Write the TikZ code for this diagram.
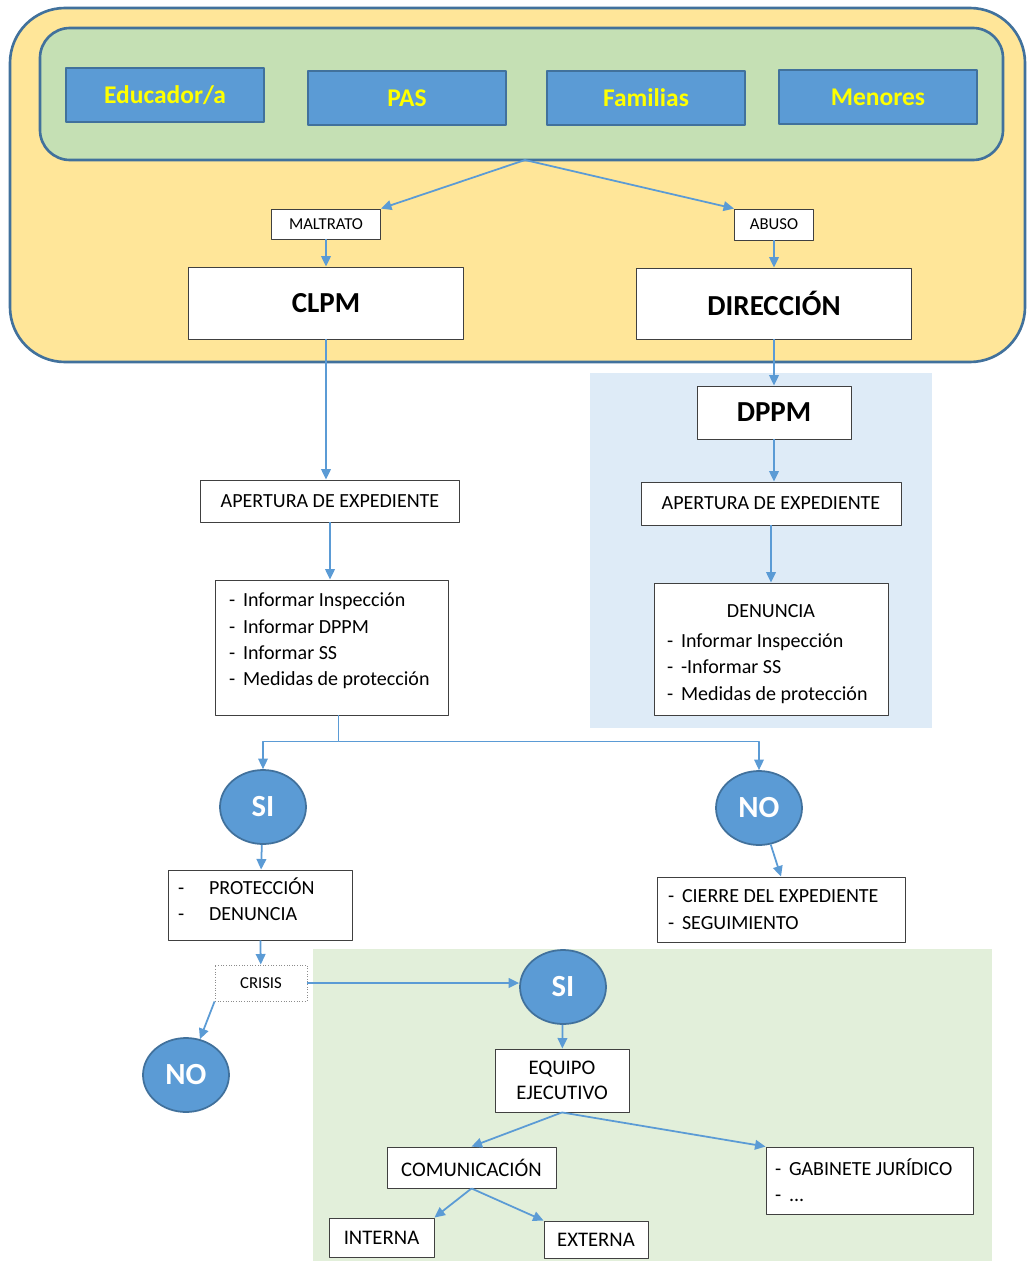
\documentclass[tikz,border=0pt]{standalone}
\usepackage{fontspec}
\setmainfont{Carlito}
\usetikzlibrary{shapes.geometric,arrows.meta}

\definecolor{azul}{HTML}{5B9BD5}
\definecolor{azuloscuro}{HTML}{41719C}
\definecolor{naranja}{HTML}{FFE699}
\definecolor{verde}{HTML}{C5E0B4}
\definecolor{verdeclaro}{HTML}{E2EFDA}
\definecolor{celeste}{HTML}{DEEBF7}
\definecolor{amarillo}{HTML}{FFFF00}

\newcommand{\guion}{\makebox[0.28cm][l]{-}}
\newcommand{\guionancho}{\makebox[0.62cm][l]{-}}

\tikzset{
  caja/.style={draw=black!75, fill=white, line width=0.5pt, inner sep=0pt, align=center, font=\fontsize{11.4}{15}\selectfont},
  lista/.style={caja, align=flush left},
  actor/.style={draw=azuloscuro, fill=azul, line width=1.2pt, text=amarillo, font=\fontsize{14.5}{16}\selectfont\bfseries, minimum width=3.96cm, minimum height=1.07cm},
  organo/.style={caja, font=\fontsize{16.5}{18}\selectfont\bfseries},
  etiqueta/.style={caja, font=\fontsize{9.5}{11}\selectfont},
  decision/.style={ellipse, draw=azuloscuro, fill=azul, line width=1pt, text=white, font=\fontsize{17.5}{18}\selectfont\bfseries, minimum width=1.72cm, minimum height=1.48cm, inner sep=0pt},
  flecha/.style={draw=azul, line width=1pt, -{Triangle[length=6pt,width=5.5pt]}}
}

\begin{document}
\begin{tikzpicture}[x=0.02cm, y=-0.02cm, line join=round]
  \useasboundingbox (0,0) rectangle (1031,1261);
  \fill[white] (0,0) rectangle (1031,1261);

  % fondos
  \filldraw[fill=naranja, draw=azuloscuro, line width=1.5pt, rounded corners=1.1cm] (10,8) rectangle (1025,362);
  \filldraw[fill=verde, draw=azuloscuro, line width=1.5pt, rounded corners=0.6cm] (40,28) rectangle (1003,160);
  \fill[celeste] (590,373) rectangle (932,728);
  \fill[verdeclaro] (313,949) rectangle (992,1261);

  % quien detecta
  \node[actor] (educador) at (165,95) {Educador/a};
  \node[actor] (pas) at (407,98) {PAS};
  \node[actor] (familias) at (646,98) {Familias};
  \node[actor] (menores) at (878,97) {Menores};
  \coordinate (reparto) at (525,160);

  \node[etiqueta, minimum width=2.18cm, minimum height=0.6cm] (maltrato) at (326,224) {MALTRATO};
  \node[etiqueta, minimum width=1.58cm, minimum height=0.62cm] (abuso) at (774,224.5) {ABUSO};
  \node[organo, minimum width=5.5cm, minimum height=1.44cm] (clpm) at (326,303) {CLPM};
  \node[organo, minimum width=5.5cm, minimum height=1.42cm] (direccion) at (774,303.5) {DIRECCIÓN};

  % rama del maltrato
  \node[caja, minimum width=5.18cm, minimum height=0.84cm] (apertura1) at (330,501) {APERTURA DE EXPEDIENTE};
  \node[lista, text width=4.1cm, inner xsep=0.28cm, minimum height=2.7cm] (informes) at (331.5,647.5)
    {\guion Informar Inspección\\ \guion Informar DPPM\\ \guion Informar SS\\ \guion Medidas de protección\rule[-0.32cm]{0pt}{0pt}};

  % rama del abuso
  \node[organo, minimum width=3.08cm, minimum height=1.06cm] (dppm) at (774,412.5) {DPPM};
  \node[caja, minimum width=5.2cm, minimum height=0.86cm] (apertura2) at (771,503.5) {APERTURA DE EXPEDIENTE};
  \node[lista, text width=4.16cm, inner xsep=0.26cm, minimum height=2.64cm] (denuncia) at (771,649)
    {\rule{0pt}{0.46cm}\hspace*{\fill}DENUNCIA\hspace*{\fill}\null\\[2pt] \guion Informar Inspección\\ \guion -Informar SS\\ \guion Medidas de protección};

  % decisiones
  \node[decision] (si1) at (263,807) {SI};
  \node[decision] (no1) at (759,808) {NO};
  \node[lista, text width=3.28cm, inner xsep=0.2cm, minimum height=1.4cm] (proteccion) at (260,905)
    {\guionancho PROTECCIÓN\\ \guionancho DENUNCIA\rule[-0.24cm]{0pt}{0pt}};
  \node[lista, text width=4.52cm, inner xsep=0.22cm, minimum height=1.3cm] (cierre) at (781,909.5)
    {\guion CIERRE DEL EXPEDIENTE\\ \guion SEGUIMIENTO};
  \node[etiqueta, draw=black!45, densely dotted, minimum width=1.84cm, minimum height=0.72cm] (crisis) at (261,983) {CRISIS};
  \node[decision] (no2) at (186,1075) {NO};
  \node[decision] (si2) at (563,987) {SI};

  % gestion de la crisis
  \node[caja, minimum width=2.68cm, minimum height=1.26cm, font=\fontsize{11.8}{14.5}\selectfont] (equipo) at (562,1080.5) {EQUIPO\\ EJECUTIVO};
  \node[caja, minimum width=3.38cm, minimum height=0.82cm, font=\fontsize{11.8}{14.5}\selectfont] (comunicacion) at (471.5,1167.5) {COMUNICACIÓN};
  \node[lista, text width=3.78cm, inner xsep=0.18cm, minimum height=1.34cm] (gabinete) at (869.5,1180.5)
    {\guion GABINETE JURÍDICO\\ \guion ...};
  \node[caja, minimum width=2.1cm, minimum height=0.78cm, font=\fontsize{11.8}{14.5}\selectfont] (interna) at (381.5,1237.5) {INTERNA};
  \node[caja, minimum width=2.08cm, minimum height=0.74cm, font=\fontsize{11.8}{14.5}\selectfont] (externa) at (596,1239.5) {EXTERNA};

  % conexiones
  \draw[flecha] (reparto) -- (maltrato.north east);
  \draw[flecha] (reparto) -- (abuso.north west);
  \draw[flecha] (maltrato) -- (clpm);
  \draw[flecha] (abuso) -- (direccion);
  \draw[flecha] (clpm.south) -- (clpm.south |- apertura1.north);
  \draw[flecha] (apertura1.south) -- (apertura1.south |- informes.north);
  \draw[flecha] (direccion.south) -- (direccion.south |- dppm.north);
  \draw[flecha] (dppm.south) -- (dppm.south |- apertura2.north);
  \draw[flecha] (apertura2.south) -- (apertura2.south |- denuncia.north);
  \draw[flecha, line width=0.7pt] ([xshift=0.14cm]informes.south) -- ++(0,26) coordinate (cruce) -| (si1.north);
  \draw[flecha, line width=0.7pt] (cruce) -| (no1.north);
  \draw[flecha] (si1) -- (proteccion);
  \draw[flecha] (no1) -- (cierre.north);
  \draw[flecha] (proteccion) -- (crisis);
  \draw[flecha] (crisis.east) -- (crisis.east -| si2.west);
  \draw[flecha] (crisis.south west) -- (no2);
  \draw[flecha] (si2) -- (equipo);
  \draw[flecha] (equipo.south) -- (comunicacion.north);
  \draw[flecha] (equipo.south) -- (gabinete.north west);
  \draw[flecha] (comunicacion.south) -- (interna.north east);
  \draw[flecha] (comunicacion.south) -- (externa.north west);
\end{tikzpicture}
\end{document}
